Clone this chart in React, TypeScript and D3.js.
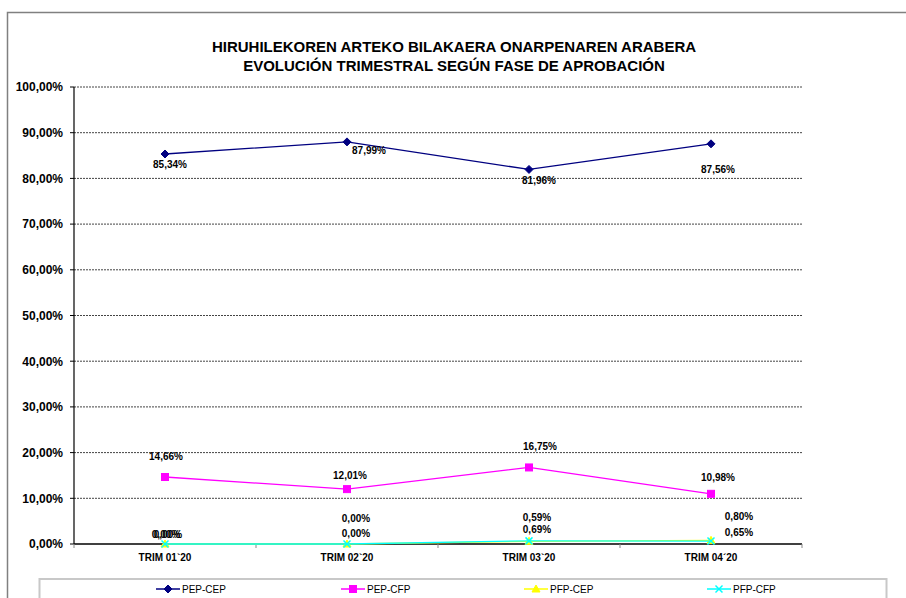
import React from "react";
import * as d3 from "d3";

const categories = ["TRIM 01`20", "TRIM 02`20", "TRIM 03`20", "TRIM 04´20"];
const pepCep = [85.34, 87.99, 81.96, 87.56];
const pepCfp = [14.66, 12.01, 16.75, 10.98];
const pfpCep = [0, 0, 0.59, 0.8];
const pfpCfp = [0, 0, 0.69, 0.65];
const yTicks = [0, 10, 20, 30, 40, 50, 60, 70, 80, 90, 100];
const titleLines = [
  "HIRUHILEKOREN ARTEKO BILAKAERA ONARPENAREN ARABERA",
  "EVOLUCIÓN TRIMESTRAL SEGÚN FASE DE APROBACIÓN",
];

// label offsets (dx, dy of baseline relative to the point)
const labelOffsets: Record<string, [number, number][]> = {
  "PEP-CEP": [[5, 14], [22, 12], [10, 15], [7, 29]],
  "PEP-CFP": [[1, -17], [3, -10], [11, -17], [7, -13]],
  "PFP-CEP": [[1, -6], [9, -22], [8, -20], [28, -20]],
  "PFP-CFP": [[3, -6], [9, -7], [8, -8], [28, -5]],
};

const series = [
  { name: "PEP-CEP", values: pepCep, color: "#000080", marker: "diamond" },
  { name: "PEP-CFP", values: pepCfp, color: "#FF00FF", marker: "square" },
  { name: "PFP-CEP", values: pfpCep, color: "#FFFF00", marker: "triangle" },
  { name: "PFP-CFP", values: pfpCfp, color: "#00FFFF", marker: "x" },
];

const fmt = (v: number) => v.toFixed(2).replace(".", ",") + "%";

function Marker({ type, x, y, color }: { type: string; x: number; y: number; color: string }) {
  if (type === "diamond") {
    return <path d={`M${x},${y - 4}L${x + 4},${y}L${x},${y + 4}L${x - 4},${y}Z`} fill={color} stroke={color} />;
  }
  if (type === "square") {
    return <rect x={x - 3.5} y={y - 3.5} width={7} height={7} fill={color} stroke={color} />;
  }
  if (type === "triangle") {
    return <path d={`M${x},${y - 4}L${x + 4},${y + 3}L${x - 4},${y + 3}Z`} fill={color} stroke={color} />;
  }
  return (
    <g stroke={color} strokeWidth={1.5}>
      <line x1={x - 3.5} y1={y - 3.5} x2={x + 3.5} y2={y + 3.5} />
      <line x1={x - 3.5} y1={y + 3.5} x2={x + 3.5} y2={y - 3.5} />
    </g>
  );
}

export default function App() {
  const W = 906;
  const H = 598;
  const left = 74;
  const right = 802;
  const top = 87;
  const bottom = 544;
  const x = d3.scaleBand<string>().domain(categories).range([left, right]);
  const y = d3.scaleLinear().domain([0, 100]).range([bottom, top]);
  const cx = (c: string) => (x(c) as number) + x.bandwidth() / 2;
  const line = d3
    .line<number>()
    .x((_, i) => cx(categories[i]))
    .y((d) => y(d));
  const font = "Arial, 'Liberation Sans', sans-serif";
  const legendX = [156, 341, 524, 707];

  return (
    <svg
      width={W}
      height={H}
      style={{ position: "absolute", left: 0, top: 0, background: "#fff" }}
      fontFamily={font}
    >
      <rect x={0} y={0} width={W} height={H} fill="#fff" />
      {/* outer border */}
      <path d={`M7.5,${H}L7.5,12.5L${W},12.5`} fill="none" stroke="#808080" strokeWidth={1.5} />

      {/* title */}
      {titleLines.map((t, i) => (
        <text key={i} x={454} y={52 + i * 18.5} textAnchor="middle" fontSize={15} fontWeight="bold" fill="#000">
          {t}
        </text>
      ))}

      {/* gridlines */}
      {yTicks
        .filter((t) => t > 0)
        .map((t) => (
          <line
            key={t}
            x1={left}
            x2={right}
            y1={y(t)}
            y2={y(t)}
            stroke="#444"
            strokeWidth={1}
            strokeDasharray="2,1"
          />
        ))}

      {/* y axis */}
      <line x1={left} x2={left} y1={top} y2={bottom} stroke="#000" strokeWidth={1.2} />
      {yTicks.map((t) => (
        <g key={t}>
          <line x1={left - 4} x2={left} y1={y(t)} y2={y(t)} stroke="#000" />
          <text x={63} y={y(t) + 4.3} textAnchor="end" fontSize={12} fontWeight="bold" fill="#000">
            {fmt(t)}
          </text>
        </g>
      ))}

      {/* x axis */}
      <line x1={left} x2={right} y1={bottom} y2={bottom} stroke="#000" strokeWidth={1.5} />
      {categories.map((c, i) => (
        <g key={c}>
          <line
            x1={(x(c) as number) + x.bandwidth()}
            x2={(x(c) as number) + x.bandwidth()}
            y1={bottom}
            y2={bottom + 4}
            stroke="#888"
          />
          {i === 0 && <line x1={left} x2={left} y1={bottom} y2={bottom + 4} stroke="#888" />}
          <text x={cx(c)} y={560.5} textAnchor="middle" fontSize={10} fontWeight="bold" fill="#000">
            {c}
          </text>
        </g>
      ))}

      {/* series */}
      {series.map((s) => (
        <g key={s.name}>
          <path d={line(s.values) || ""} fill="none" stroke={s.color} strokeWidth={1.3} />
          {s.values.map((v, i) => (
            <Marker key={i} type={s.marker} x={cx(categories[i])} y={y(v)} color={s.color} />
          ))}
        </g>
      ))}
      {series.map((s) => (
        <g key={s.name + "-labels"}>
          {s.values.map((v, i) => {
            const [dx, dy] = labelOffsets[s.name][i];
            return (
              <text
                key={i}
                x={cx(categories[i]) + dx}
                y={y(v) + dy}
                textAnchor="middle"
                fontSize={10}
                fontWeight="bold"
                fill="#000"
              >
                {fmt(v)}
              </text>
            );
          })}
        </g>
      ))}

      {/* legend */}
      <rect x={39.5} y={579} width={847} height={40} fill="#fff" stroke="#c8c8c8" strokeWidth={2} />
      {series.map((s, i) => (
        <g key={s.name + "-leg"}>
          <line x1={legendX[i]} x2={legendX[i] + 24} y1={589} y2={589} stroke={s.color} strokeWidth={1.5} />
          <Marker type={s.marker} x={legendX[i] + 12} y={589} color={s.color} />
          <text x={legendX[i] + 26} y={592.5} fontSize={10} fill="#000">
            {s.name}
          </text>
        </g>
      ))}
    </svg>
  );
}
